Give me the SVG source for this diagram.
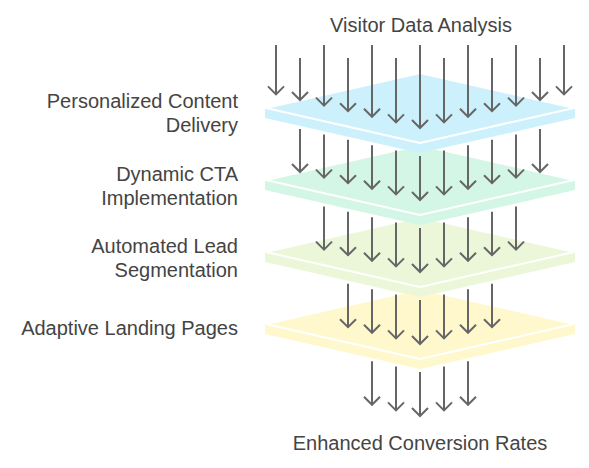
<svg xmlns="http://www.w3.org/2000/svg" width="589" height="468" viewBox="0 0 589 468">
<style>
.t{font-family:"Liberation Sans",Arial,sans-serif;font-size:20px;fill:#444}
.r{text-anchor:end}
.m{text-anchor:middle}
.face{stroke:#fff;stroke-width:2;stroke-linejoin:round}
.a line,.a polyline{stroke:#666;stroke-width:2;fill:none}
</style>
<defs>
<g id="slab">
<polygon points="265,108 420,73 575,108 575,118 420,153 265,118"/>
<polygon class="face" points="266,108 420,73 574,108 420,143"/>
</g>
</defs>
<rect width="589" height="468" fill="#fff"/>
<g id="layer4" fill="#fef8cc"><use href="#slab" transform="translate(0,216)"/></g>
<g id="layer3" fill="#ebf7d8"><use href="#slab" transform="translate(0,144)"/></g>
<g id="layer2" fill="#d4f6e6"><use href="#slab" transform="translate(0,72)"/></g>
<g id="layer1" fill="#cdf1fc"><use href="#slab"/></g>
<g id="connectors" class="a">
<line x1="276" y1="45" x2="276" y2="94.4"/><polyline points="268,86.4 276,94.4 284,86.4"/>
<line x1="300" y1="58" x2="300" y2="100"/><polyline points="292,92 300,100 308,92"/>
<line x1="324" y1="45" x2="324" y2="105.6"/><polyline points="316,97.6 324,105.6 332,97.6"/>
<line x1="348" y1="58" x2="348" y2="111.2"/><polyline points="340,103.2 348,111.2 356,103.2"/>
<line x1="372" y1="45" x2="372" y2="116.8"/><polyline points="364,108.8 372,116.8 380,108.8"/>
<line x1="396" y1="58" x2="396" y2="122.4"/><polyline points="388,114.4 396,122.4 404,114.4"/>
<line x1="420" y1="45" x2="420" y2="128"/><polyline points="412,120 420,128 428,120"/>
<line x1="444" y1="58" x2="444" y2="122.4"/><polyline points="436,114.4 444,122.4 452,114.4"/>
<line x1="468" y1="45" x2="468" y2="116.8"/><polyline points="460,108.8 468,116.8 476,108.8"/>
<line x1="492" y1="58" x2="492" y2="111.2"/><polyline points="484,103.2 492,111.2 500,103.2"/>
<line x1="516" y1="45" x2="516" y2="105.6"/><polyline points="508,97.6 516,105.6 524,97.6"/>
<line x1="540" y1="58" x2="540" y2="100"/><polyline points="532,92 540,100 548,92"/>
<line x1="564" y1="45" x2="564" y2="94.4"/><polyline points="556,86.4 564,94.4 572,86.4"/>
<line x1="300" y1="129" x2="300" y2="172"/><polyline points="292,164 300,172 308,164"/>
<line x1="324" y1="134.4" x2="324" y2="177.6"/><polyline points="316,169.6 324,177.6 332,169.6"/>
<line x1="348" y1="139.8" x2="348" y2="183.2"/><polyline points="340,175.2 348,183.2 356,175.2"/>
<line x1="372" y1="145.2" x2="372" y2="188.8"/><polyline points="364,180.8 372,188.8 380,180.8"/>
<line x1="396" y1="150.6" x2="396" y2="194.4"/><polyline points="388,186.4 396,194.4 404,186.4"/>
<line x1="420" y1="156" x2="420" y2="200"/><polyline points="412,192 420,200 428,192"/>
<line x1="444" y1="150.6" x2="444" y2="194.4"/><polyline points="436,186.4 444,194.4 452,186.4"/>
<line x1="468" y1="145.2" x2="468" y2="188.8"/><polyline points="460,180.8 468,188.8 476,180.8"/>
<line x1="492" y1="139.8" x2="492" y2="183.2"/><polyline points="484,175.2 492,183.2 500,175.2"/>
<line x1="516" y1="134.4" x2="516" y2="177.6"/><polyline points="508,169.6 516,177.6 524,169.6"/>
<line x1="540" y1="129" x2="540" y2="172"/><polyline points="532,164 540,172 548,164"/>
<line x1="324" y1="206.4" x2="324" y2="249.6"/><polyline points="316,241.6 324,249.6 332,241.6"/>
<line x1="348" y1="211.8" x2="348" y2="255.2"/><polyline points="340,247.2 348,255.2 356,247.2"/>
<line x1="372" y1="217.2" x2="372" y2="260.8"/><polyline points="364,252.8 372,260.8 380,252.8"/>
<line x1="396" y1="222.6" x2="396" y2="266.4"/><polyline points="388,258.4 396,266.4 404,258.4"/>
<line x1="420" y1="228" x2="420" y2="272"/><polyline points="412,264 420,272 428,264"/>
<line x1="444" y1="222.6" x2="444" y2="266.4"/><polyline points="436,258.4 444,266.4 452,258.4"/>
<line x1="468" y1="217.2" x2="468" y2="260.8"/><polyline points="460,252.8 468,260.8 476,252.8"/>
<line x1="492" y1="211.8" x2="492" y2="255.2"/><polyline points="484,247.2 492,255.2 500,247.2"/>
<line x1="516" y1="206.4" x2="516" y2="249.6"/><polyline points="508,241.6 516,249.6 524,241.6"/>
<line x1="348" y1="283.8" x2="348" y2="327.2"/><polyline points="340,319.2 348,327.2 356,319.2"/>
<line x1="372" y1="289.2" x2="372" y2="332.8"/><polyline points="364,324.8 372,332.8 380,324.8"/>
<line x1="396" y1="294.6" x2="396" y2="338.4"/><polyline points="388,330.4 396,338.4 404,330.4"/>
<line x1="420" y1="300" x2="420" y2="344"/><polyline points="412,336 420,344 428,336"/>
<line x1="444" y1="294.6" x2="444" y2="338.4"/><polyline points="436,330.4 444,338.4 452,330.4"/>
<line x1="468" y1="289.2" x2="468" y2="332.8"/><polyline points="460,324.8 468,332.8 476,324.8"/>
<line x1="492" y1="283.8" x2="492" y2="327.2"/><polyline points="484,319.2 492,327.2 500,319.2"/>
<line x1="372" y1="361.2" x2="372" y2="404.8"/><polyline points="364,396.8 372,404.8 380,396.8"/>
<line x1="396" y1="366.6" x2="396" y2="410.4"/><polyline points="388,402.4 396,410.4 404,402.4"/>
<line x1="420" y1="372" x2="420" y2="416"/><polyline points="412,408 420,416 428,408"/>
<line x1="444" y1="366.6" x2="444" y2="410.4"/><polyline points="436,402.4 444,410.4 452,402.4"/>
<line x1="468" y1="361.2" x2="468" y2="404.8"/><polyline points="460,396.8 468,404.8 476,396.8"/>
</g>
<g id="labels">
<text class="t m" x="421" y="32">Visitor Data Analysis</text>
<text class="t r" x="238" y="108">Personalized Content</text>
<text class="t r" x="238" y="132">Delivery</text>
<text class="t r" x="238" y="181">Dynamic CTA</text>
<text class="t r" x="238" y="205">Implementation</text>
<text class="t r" x="238" y="253">Automated Lead</text>
<text class="t r" x="238" y="277">Segmentation</text>
<text class="t r" x="238" y="335">Adaptive Landing Pages</text>
<text class="t m" x="420" y="450">Enhanced Conversion Rates</text>
</g>
</svg>
